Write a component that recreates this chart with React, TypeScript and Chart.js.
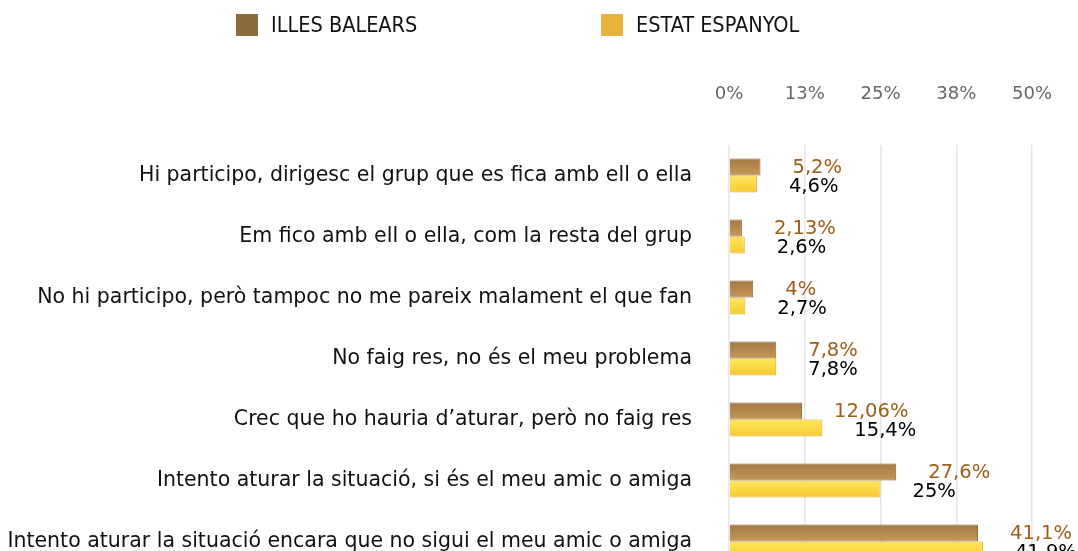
import React, { useEffect, useRef } from "react";
import { Chart, registerables } from "chart.js";

Chart.register(...registerables);

const categories = [
  "Hi participo, dirigesc el grup que es fica amb ell o ella",
  "Em fico amb ell o ella, com la resta del grup",
  "No hi participo, però tampoc no me pareix malament el que fan",
  "No faig res, no és el meu problema",
  "Crec que ho hauria d’aturar, però no faig res",
  "Intento aturar la situació, si és el meu amic o amiga",
  "Intento aturar la situació encara que no sigui el meu amic o amiga",
];
const seriesNames = ["ILLES BALEARS", "ESTAT ESPANYOL"];
const balears = [5.2, 2.13, 4, 7.8, 12.06, 27.6, 41.1];
const espanyol = [4.6, 2.6, 2.7, 7.8, 15.4, 25, 41.9];
const balearsLabels = ["5,2%", "2,13%", "4%", "7,8%", "12,06%", "27,6%", "41,1%"];
const espanyolLabels = ["4,6%", "2,6%", "2,7%", "7,8%", "15,4%", "25%", "41,9%"];
const xTicks = [0, 12.5, 25, 37.5, 50];

const gradientPlugin = {
  id: "barGradients",
  beforeDatasetDraw(chart: any, args: any) {
    const ctx = chart.ctx;
    const meta = args.meta;
    const di = args.index;
    meta.data.forEach((el: any) => {
      const top = el.y - el.height / 2;
      const bot = el.y + el.height / 2;
      const g = ctx.createLinearGradient(0, top, 0, bot);
      if (di === 0) {
        g.addColorStop(0, "#a27844");
        g.addColorStop(1, "#c69858");
      } else {
        g.addColorStop(0, "#ffe85a");
        g.addColorStop(1, "#f7c833");
      }
      el.options.backgroundColor = g;
    });
  },
};

const labelPlugin = {
  id: "valueLabels",
  afterDatasetsDraw(chart: any) {
    const ctx = chart.ctx;
    ctx.save();
    ctx.font = "19.5px 'DejaVu Sans'";
    ctx.textAlign = "left";
    ctx.textBaseline = "middle";
    [0, 1].forEach((di) => {
      const meta = chart.getDatasetMeta(di);
      const texts = di === 0 ? balearsLabels : espanyolLabels;
      ctx.fillStyle = di === 0 ? "#9e5e16" : "#000000";
      meta.data.forEach((el: any, i: number) => {
        const dy = di === 0 ? 1 : 3;
        ctx.fillText(texts[i], el.x + 32, el.y + dy);
      });
    });
    ctx.restore();
  },
};

export default function App() {
  const ref = useRef<HTMLCanvasElement | null>(null);
  useEffect(() => {
    if (!ref.current) return;
    const chart = new Chart(ref.current, {
      type: "bar",
      data: {
        labels: categories,
        datasets: [
          {
            label: seriesNames[0],
            data: balears,
            backgroundColor: () => "#b88a50",
            borderColor: "#8a6437",
            borderWidth: 1,
            barPercentage: 1,
            categoryPercentage: 0.56,
          },
          {
            label: seriesNames[1],
            data: espanyol,
            backgroundColor: () => "#ffdc45",
            borderColor: "#d9ae2c",
            borderWidth: 1,
            barPercentage: 1,
            categoryPercentage: 0.56,
          },
        ],
      },
      options: {
        indexAxis: "y",
        responsive: false,
        maintainAspectRatio: false,
        animation: false,
        layout: { padding: { top: 83, right: 46, left: 0, bottom: 2 } },
        plugins: {
          legend: { display: false },
          tooltip: { enabled: false },
        },
        scales: {
          x: {
            position: "top",
            min: 0,
            max: 50,
            afterBuildTicks: (scale: any) => {
              scale.ticks = xTicks.map((v) => ({ value: v }));
            },
            afterFit: (scale: any) => {
              scale.height = 62;
              scale.paddingLeft = 0;
              scale.paddingRight = 0;
            },
            ticks: {
              padding: 40,
              maxRotation: 0,
              minRotation: 0,
              color: "#666666",
              font: { family: "'DejaVu Sans'", size: 18 },
              callback: (v: any) => Math.round(Number(v)) + "%",
            },
            grid: { color: "#e6e6e6", drawTicks: false, lineWidth: 1.5 },
            border: { display: false },
          },
          y: {
            afterFit: (scale: any) => {
              scale.width = 729;
              scale.paddingTop = 0;
              scale.paddingBottom = 0;
            },
            ticks: {
              padding: 37,
              color: "#111111",
              font: { family: "'DejaVu Sans'", size: 20.5 },
            },
            grid: { display: false, drawTicks: false },
            border: { display: false },
          },
        },
      },
      plugins: [gradientPlugin, labelPlugin],
    } as any);
    return () => chart.destroy();
  }, []);

  const legendText: React.CSSProperties = {
    position: "absolute",
    top: 13,
    fontFamily: "'DejaVu Sans'",
    fontStretch: "condensed",
    fontSize: 21.5,
    color: "#111",
    lineHeight: "24px",
  };
  const box = (left: number, color: string): React.CSSProperties => ({
    position: "absolute",
    left,
    top: 14,
    width: 22,
    height: 22,
    background: color,
  });

  return (
    <div
      style={{
        position: "fixed",
        left: 0,
        top: 0,
        width: 1078,
        height: 551,
        overflow: "hidden",
        background: "#fff",
      }}
    >
      <canvas
        ref={ref}
        width={1078}
        height={574}
        style={{ position: "absolute", left: 0, top: 0, width: 1078, height: 574 }}
      />
      <div style={box(236, "#8b6a3e")} />
      <div style={{ ...legendText, left: 271 }}>{seriesNames[0]}</div>
      <div style={box(601, "#e8b33d")} />
      <div style={{ ...legendText, left: 636 }}>{seriesNames[1]}</div>
    </div>
  );
}
